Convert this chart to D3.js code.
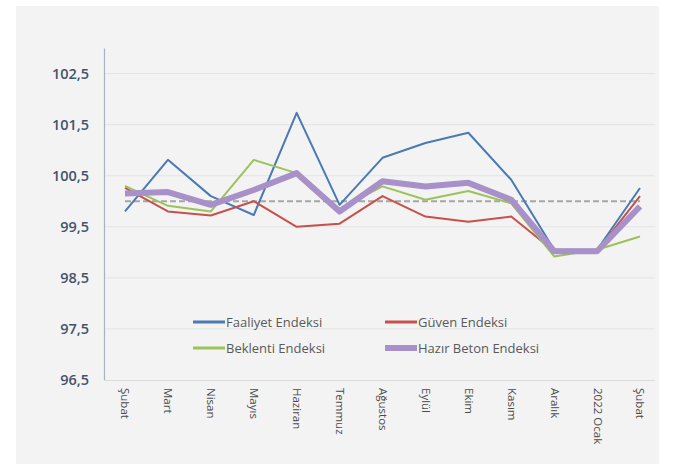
<!DOCTYPE html>
<html>
<head>
<meta charset="utf-8">
<script src="https://cdn.jsdelivr.net/npm/d3@7"></script>
<style>
  body { margin: 0; background: #fff; }
  svg { display: block; font-family: "Open Sans", "Liberation Sans", sans-serif; }
</style>
</head>
<body>
<div id="chart"></div>
<script>
const months = ["Şubat", "Mart", "Nisan", "Mayıs", "Haziran", "Temmuz", "Ağustos",
  "Eylül", "Ekim", "Kasım", "Aralık", "2022 Ocak", "Şubat"];
const faaliyet = [99.8, 100.81, 100.1, 99.73, 101.73, 99.93, 100.85, 101.14, 101.34, 100.42, 99.05, 99.05, 100.26];
const guven = [100.26, 99.8, 99.72, 100.0, 99.5, 99.56, 100.1, 99.7, 99.6, 99.7, 99.02, 99.03, 100.1];
const beklenti = [100.3, 99.91, 99.8, 100.81, 100.55, 99.85, 100.29, 100.03, 100.2, 99.96, 98.92, 99.05, 99.31];
const hazirBeton = [100.15, 100.18, 99.93, 100.22, 100.55, 99.8, 100.39, 100.29, 100.36, 100.03, 99.02, 99.02, 99.9];
const reference = months.map(() => 100);
const yTicks = [96.5, 97.5, 98.5, 99.5, 100.5, 101.5, 102.5];

const series = [
  { name: "Faaliyet Endeksi", values: faaliyet, color: "#4a7ab4", width: 2 },
  { name: "Güven Endeksi", values: guven, color: "#c8504c", width: 2 },
  { name: "Beklenti Endeksi", values: beklenti, color: "#9cc25a", width: 2 },
  { name: "Hazır Beton Endeksi", values: hazirBeton, color: "#a890c8", width: 6 },
];

const W = 673, H = 464;
const margin = { left: 104, right: 12, top: 48, bottom: 84 };

const svg = d3.select("#chart").append("svg").attr("width", W).attr("height", H);

svg.append("rect").attr("x", 16).attr("y", 6).attr("width", 643).attr("height", 458)
  .attr("fill", "#f3f3f3");

const x = d3.scalePoint().domain(d3.range(months.length))
  .range([125, 640]);
const y = d3.scaleLinear().domain([96.5, 103.0]).range([H - margin.bottom, margin.top]);

// grid
svg.append("g").selectAll("line").data(yTicks.slice(1)).join("line")
  .attr("x1", margin.left).attr("x2", 655)
  .attr("y1", d => y(d)).attr("y2", d => y(d))
  .attr("stroke", "#e4e4e4").attr("stroke-width", 1);

// y axis
const yAxis = svg.append("g").attr("transform", `translate(${margin.left},0)`)
  .call(d3.axisLeft(y).tickValues(yTicks).tickSize(0).tickPadding(15)
    .tickFormat(d => d3.format(".1f")(d).replace(".", ",")));
yAxis.select(".domain").attr("stroke", "#a9b4c2").attr("stroke-width", 1.2);
yAxis.selectAll("text").attr("font-size", 14.5).attr("fill", "#44536b")
  .attr("font-weight", 600)
  .attr("font-family", "'Open Sans', sans-serif");

// x axis
const xAxis = svg.append("g").attr("transform", `translate(0,${y(96.5)})`)
  .call(d3.axisBottom(x).tickSize(0).tickFormat(i => months[i]));
xAxis.select(".domain").attr("d", `M${margin.left},0.5H655`).attr("stroke", "#dcdcdc");
xAxis.selectAll("text")
  .attr("transform", "rotate(90)")
  .attr("text-anchor", "start")
  .attr("x", 8).attr("y", 0).attr("dy", "0.35em")
  .attr("font-family", "'Open Sans', sans-serif")
  .attr("font-size", 11.5).attr("fill", "#4a4a4a");

const line = d3.line().x((d, i) => x(i)).y(d => y(d));

svg.append("path").datum(reference).attr("d", line)
  .attr("fill", "none").attr("stroke", "#a6a6a6").attr("stroke-width", 2)
  .attr("stroke-dasharray", "6,3");

svg.append("g").selectAll("path").data(series).join("path")
  .attr("d", d => line(d.values))
  .attr("fill", "none")
  .attr("stroke", d => d.color)
  .attr("stroke-width", d => d.width)
  .attr("stroke-linejoin", "round");

// legend
const legendPos = [[193, 322], [385, 322], [193, 348], [385, 348]];
const legend = svg.append("g").selectAll("g").data(series).join("g")
  .attr("transform", (d, i) => `translate(${legendPos[i][0]},${legendPos[i][1]})`);
legend.append("line").attr("x1", 0).attr("x2", 32)
  .attr("stroke", d => d.color).attr("stroke-width", d => d.width === 6 ? 6 : 3);
legend.append("text").attr("x", 33).attr("dy", "0.35em")
  .attr("font-size", 13).attr("fill", "#595959").text(d => d.name);
</script>
</body>
</html>
